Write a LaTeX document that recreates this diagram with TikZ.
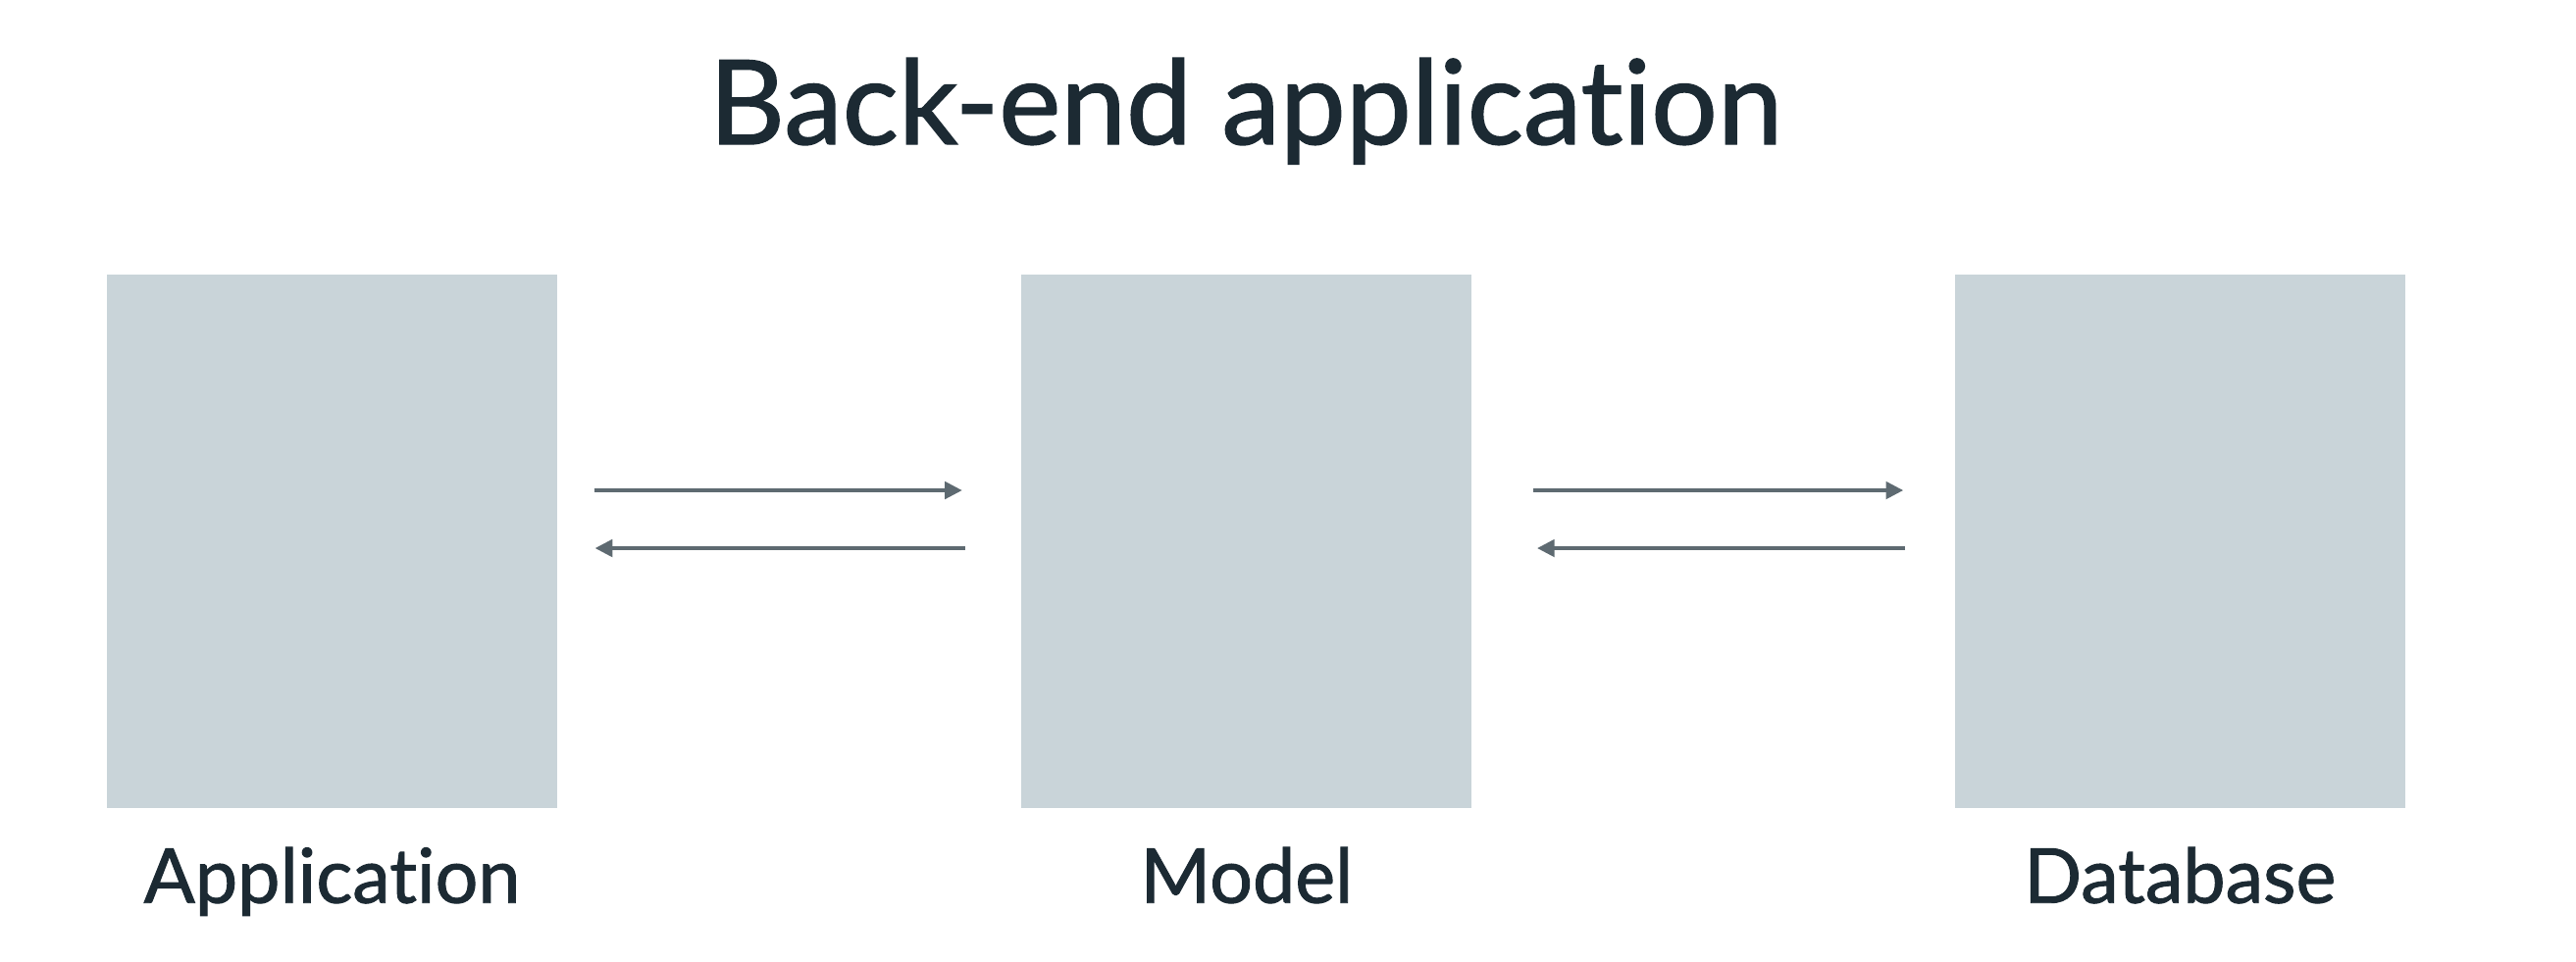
\documentclass[tikz,border=0pt]{standalone}
\usepackage{fontspec}
\setmainfont{Lato}[Ligatures=NoCommon,FakeBold=1.2]
\usepackage{tikz}
\usetikzlibrary{arrows.meta,positioning}

\definecolor{boxgray}{HTML}{C9D4D9}
\definecolor{arrowgray}{HTML}{5E6A71}
\definecolor{textdark}{HTML}{1C2A33}

\begin{document}
\begin{tikzpicture}[>={Triangle[length=5pt,width=5pt]},
    layer box/.style={rectangle,fill=boxgray,minimum width=4.59cm,minimum height=5.44cm,inner sep=0pt},
    layer name/.style={anchor=base,text=textdark,font=\fontsize{22}{26}\selectfont},
    flow/.style={->,draw=arrowgray,line width=0.9pt}]
    \useasboundingbox[fill=white] (0,0) rectangle (26.26,-9.80);

    \node[anchor=base,text=textdark,font=\fontsize{34}{40}\selectfont] (title) at (12.70,-1.47) {Back-end application};

    \node[layer box] (app) at (3.385,-5.52) {};
    \node[layer box] (model) [right=4.72cm of app] {};
    \node[layer box] (db) [right=4.91cm of model] {};

    \node[layer name] (applabel) at ([yshift=-0.96cm]app.south) {Application};
    \node[layer name] (modellabel) at ([yshift=-0.96cm]model.south) {Model};
    \node[layer name] (dblabel) at ([yshift=-0.96cm]db.south) {Database};

    % requests go right, answers come back left
    \draw[flow,shorten <=0.37cm,shorten >=0.60cm] ([yshift=0.52cm]app.east) -- ([yshift=0.52cm]model.west);
    \draw[flow,shorten <=0.57cm,shorten >=0.38cm] ([yshift=-0.07cm]model.west) -- ([yshift=-0.07cm]app.east);
    \draw[flow,shorten <=0.62cm,shorten >=0.52cm] ([yshift=0.52cm]model.east) -- ([yshift=0.52cm]db.west);
    \draw[flow,shorten <=0.50cm,shorten >=0.66cm] ([yshift=-0.07cm]db.west) -- ([yshift=-0.07cm]model.east);
\end{tikzpicture}
\end{document}
